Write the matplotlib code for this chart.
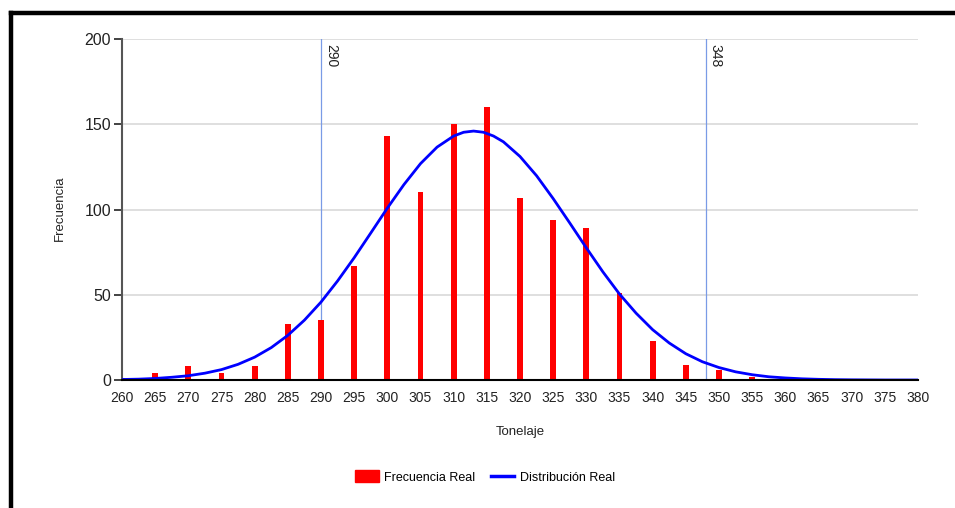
import matplotlib
matplotlib.use("Agg")
import matplotlib.pyplot as plt
from matplotlib.lines import Line2D
from matplotlib.patches import Patch

# Frecuencia observada por clase de tonelaje
tonelaje = [260, 265, 270, 275, 280, 285, 290, 295, 300, 305, 310,
            315, 320, 325, 330, 335, 340, 345, 350, 355]
frecuencia = [1, 4, 8, 4, 8, 33, 35, 67, 143, 110, 150,
              160, 107, 94, 89, 51, 23, 9, 6, 2]

# Curva de distribucion
curva_x = [260, 262.5, 265, 267.5, 270, 272.5, 275, 277.5, 280, 282.5,
           285, 287.5, 290, 292.5, 295, 297.5, 300, 302.5, 305, 307.5,
           310, 311.5, 313, 314.5, 316, 317.5, 320, 322.5, 325, 327.5,
           330, 332.5, 335, 337.5, 340, 342.5, 345, 347.5, 350, 352.5,
           355, 357.5, 360, 362.5, 365, 367.5, 370, 375, 380]
curva_y = [0.3, 0.5, 0.9, 1.6, 2.5, 4.0, 6.1, 9.2, 13.4, 19.0,
           26.2, 35.1, 45.7, 58.1, 71.7, 86.2, 100.8, 114.6, 126.9, 136.6,
           143.1, 145.3, 146.0, 145.3, 143.1, 139.7, 131.1, 119.8, 106.4, 92.1,
           77.5, 63.4, 50.4, 39.2, 29.5, 21.7, 15.4, 10.7, 7.3, 4.8,
           3.1, 1.9, 1.2, 0.7, 0.4, 0.2, 0.1, 0.0, 0.0]

limites = [290, 348]
x_ticks = list(range(260, 385, 5))
y_ticks = [0, 50, 100, 150, 200]

plt.rcParams["font.family"] = ["Liberation Sans", "DejaVu Sans"]

W, H = 955, 508
fig = plt.figure(figsize=(W / 100, H / 100), dpi=100)
ax = fig.add_axes([122 / W, (H - 380) / H, (918 - 122) / W, (380 - 39) / H])

ax.set_xlim(260, 380)
ax.set_ylim(0, 200)

# grid
for v in y_ticks[1:]:
    ax.axhline(v, color="#dcdcdc", lw=1.3, zorder=0)

# lineas limite
for lim in limites:
    ax.axvline(lim, color="#7a9be6", lw=0.9, zorder=1)
    ax.text(lim + 0.45, 197, str(lim), rotation=270, ha="left", va="top",
            fontsize=10, color="#222222", zorder=5)

ax.bar(tonelaje, frecuencia, width=0.9, color="#ff0000", zorder=2)
ax.plot(curva_x, curva_y, color="#0000ff", lw=2.0, zorder=3,
        solid_joinstyle="round")

ax.set_xticks(x_ticks)
ax.set_yticks(y_ticks)
ax.tick_params(axis="x", length=0, pad=8, labelsize=10, colors="#222222")
ax.tick_params(axis="y", length=6, width=1.2, pad=2, labelsize=11.5,
               colors="#222222")

for s in ["top", "right"]:
    ax.spines[s].set_visible(False)
ax.spines["left"].set_color("#555555")
ax.spines["left"].set_linewidth(1.5)
ax.spines["bottom"].set_color("#000000")
ax.spines["bottom"].set_linewidth(1.5)
ax.spines["bottom"].set_zorder(4)

ax.set_xlabel("Tonelaje", fontsize=9.5, labelpad=15, color="#222222")
ax.set_ylabel("Frecuencia", fontsize=9.5, color="#222222")
ax.yaxis.set_label_coords(-0.07, 0.504)

handles = [Patch(color="#ff0000", label="Frecuencia Real"),
           Line2D([0], [0], color="#0000ff", lw=2.5, label="Distribución Real")]
fig.legend(handles=handles, loc="center", bbox_to_anchor=(485 / W, (H - 477) / H),
           ncol=2, frameon=False, prop={"size": 9},
           handlelength=1.9, handleheight=1.1, columnspacing=1.2,
           handletextpad=0.45)

# marco negro
fig.add_artist(Line2D([11 / W, 11 / W], [0, (H - 13) / H], color="black",
                      lw=3.2, solid_capstyle="projecting",
                      transform=fig.transFigure))
fig.add_artist(Line2D([11 / W, 1], [(H - 13) / H, (H - 13) / H], color="black",
                      lw=3.2, solid_capstyle="projecting",
                      transform=fig.transFigure))

fig.savefig("out.png", dpi=100)
